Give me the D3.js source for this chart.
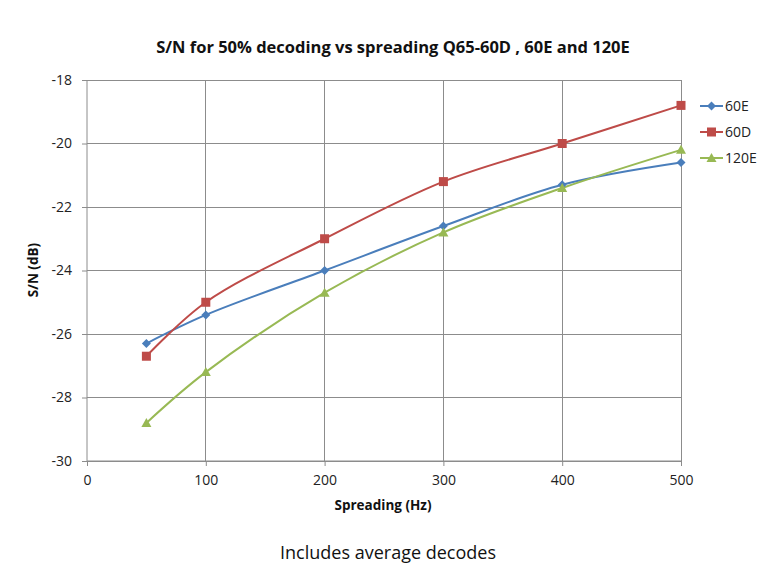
<!DOCTYPE html>
<html><head><meta charset="utf-8">
<script src="https://cdn.jsdelivr.net/npm/d3@7"></script>
<style>body{margin:0;background:#fff}svg{display:block}</style>
</head><body>
<svg id="c" width="779" height="573"></svg>
<script>
const spreading = [50, 100, 200, 300, 400, 500];
const s60E = [-26.3, -25.4, -24.0, -22.6, -21.3, -20.6];
const s60D = [-26.7, -25.0, -23.0, -21.2, -20.0, -18.8];
const s120E = [-28.8, -27.2, -24.7, -22.8, -21.4, -20.2];
const seriesNames = ["60E", "60D", "120E"];
const xTicks = [0, 100, 200, 300, 400, 500];
const yTicks = [-30, -28, -26, -24, -22, -20, -18];

const series = [
  {name: seriesNames[0], values: s60E, color: "#4A7EBB", marker: "diamond"},
  {name: seriesNames[1], values: s60D, color: "#BE4B48", marker: "square"},
  {name: seriesNames[2], values: s120E, color: "#98B954", marker: "triangle"}
];

const svg = d3.select("#c");
const font = "Open Sans, Liberation Sans, sans-serif";
const L = 87, R = 681, T = 80, B = 461;
const x = d3.scaleLinear().domain([0, 500]).range([L, R]);
const y = d3.scaleLinear().domain([-30, -18]).range([B, T]);

// grid
svg.append("g").selectAll("line").data(yTicks).join("line")
  .attr("x1", L).attr("x2", R).attr("y1", d => y(d)).attr("y2", d => y(d))
  .attr("stroke", "#8c8c8c").attr("stroke-width", 1).attr("shape-rendering", "crispEdges");
svg.append("g").selectAll("line").data(xTicks.slice(1)).join("line")
  .attr("x1", d => x(d)).attr("x2", d => x(d)).attr("y1", T).attr("y2", B)
  .attr("stroke", "#8c8c8c").attr("stroke-width", 1).attr("shape-rendering", "crispEdges");

// axes
const yAxis = svg.append("g").attr("transform", `translate(${L},0)`)
  .call(d3.axisLeft(y).tickValues(yTicks).tickSize(5).tickPadding(10).tickFormat(d3.format("d")));
const xAxis = svg.append("g").attr("transform", `translate(0,${B})`)
  .call(d3.axisBottom(x).tickValues(xTicks).tickSize(5).tickPadding(9));
[yAxis, xAxis].forEach(a => {
  a.select(".domain").attr("stroke", "#8c8c8c");
  a.selectAll(".tick line").attr("stroke", "#8c8c8c");
  a.selectAll("text").attr("font-family", font).attr("font-size", 14).attr("fill", "#222");
});
yAxis.selectAll(".domain").attr("d", `M0,${T}V${B}`);
xAxis.selectAll(".domain").attr("d", `M${L},0H${R}`);
yAxis.selectAll(".tick text").text(d => d < 0 ? "-" + Math.abs(d) : d);

// lines
const line = d3.line().x((d, i) => x(spreading[i])).y(d => y(d)).curve(d3.curveCatmullRom.alpha(0.5));
function marker(g, type, cx, cy, color) {
  if (type === "diamond") {
    g.append("path").attr("d", `M${cx},${cy-4.5}L${cx+4.5},${cy}L${cx},${cy+4.5}L${cx-4.5},${cy}Z`).attr("fill", color);
  } else if (type === "square") {
    g.append("rect").attr("x", cx-4.5).attr("y", cy-4.5).attr("width", 9).attr("height", 9).attr("fill", color);
  } else {
    g.append("path").attr("d", `M${cx},${cy-5}L${cx+5},${cy+4}L${cx-5},${cy+4}Z`).attr("fill", color);
  }
}
series.forEach(s => {
  svg.append("path").datum(s.values).attr("d", line).attr("fill", "none")
    .attr("stroke", s.color).attr("stroke-width", 2);
});
series.forEach(s => {
  const g = svg.append("g");
  s.values.forEach((v, i) => marker(g, s.marker, x(spreading[i]), y(v), s.color));
});

// legend
const legY = [106, 132, 158];
series.forEach((s, i) => {
  const g = svg.append("g");
  g.append("line").attr("x1", 700).attr("x2", 723).attr("y1", legY[i]).attr("y2", legY[i])
    .attr("stroke", s.color).attr("stroke-width", 2);
  marker(g, s.marker, 711.5, legY[i], s.color);
  g.append("text").attr("x", 725).attr("y", legY[i]).attr("dy", "0.35em")
    .attr("font-family", font).attr("font-size", 14).attr("fill", "#222").text(s.name);
});

// titles
svg.append("text").attr("x", 393).attr("y", 53).attr("text-anchor", "middle")
  .attr("font-family", font).attr("font-size", 16.5).attr("font-weight", "bold").attr("fill", "#111")
  .text("S/N for 50% decoding vs spreading Q65-60D , 60E and 120E");
svg.append("text").attr("x", 383).attr("y", 510).attr("text-anchor", "middle")
  .attr("font-family", font).attr("font-size", 13.5).attr("font-weight", "bold").attr("fill", "#111")
  .text("Spreading (Hz)");
svg.append("text").attr("transform", "translate(38,270) rotate(-90)").attr("text-anchor", "middle")
  .attr("font-family", font).attr("font-size", 13.5).attr("font-weight", "bold").attr("fill", "#111")
  .text("S/N (dB)");
svg.append("text").attr("x", 388).attr("y", 559).attr("text-anchor", "middle")
  .attr("font-family", font).attr("font-size", 18).attr("fill", "#111")
  .text("Includes average decodes");
</script>
</body></html>
